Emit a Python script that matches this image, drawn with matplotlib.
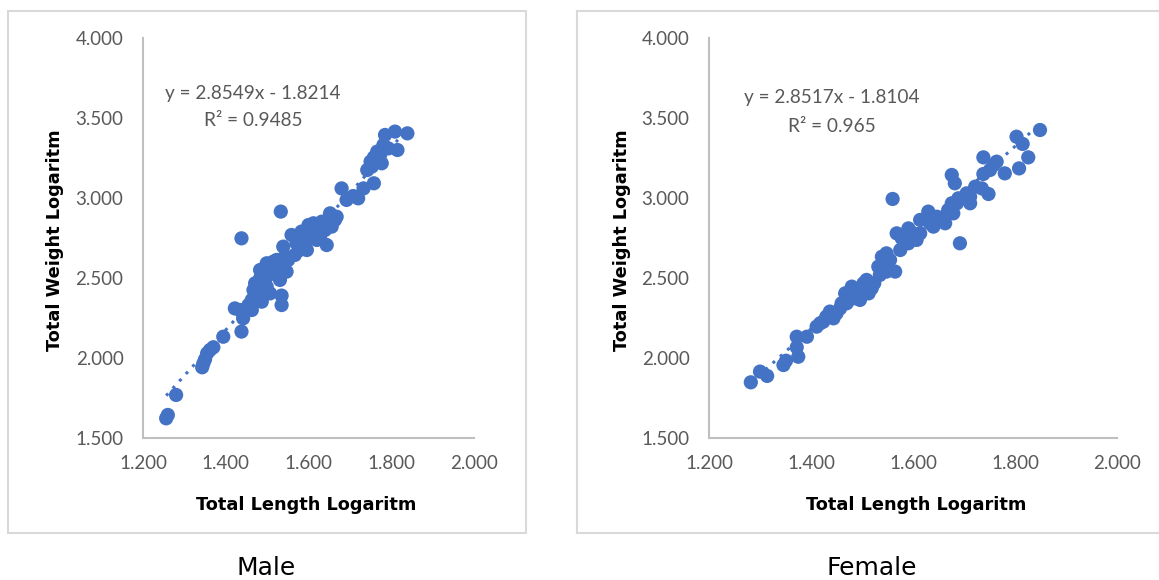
import matplotlib
matplotlib.use("Agg")
import matplotlib.pyplot as plt
from matplotlib.patches import Rectangle
import numpy as np

# ---------------- data ----------------
male_x = [1.256, 1.260, 1.280, 1.343, 1.350, 1.355, 1.362, 1.370, 1.346, 1.394,
          1.438, 1.422, 1.442, 1.434, 1.455, 1.463, 1.467, 1.475, 1.487, 1.483,
          1.499, 1.511, 1.515, 1.523, 1.539, 1.531, 1.547, 1.499, 1.507, 1.491,
          1.535, 1.535, 1.438, 1.533, 1.539, 1.559, 1.571, 1.583, 1.592, 1.604,
          1.612, 1.624, 1.632, 1.644, 1.652, 1.664, 1.656, 1.596, 1.579, 1.608,
          1.567, 1.551, 1.680, 1.692, 1.708, 1.733, 1.758, 1.742, 1.750, 1.758,
          1.769, 1.777, 1.785, 1.809, 1.839, 1.815, 1.793, 1.781, 1.766, 1.628,
          1.640, 1.668, 1.483, 1.471, 1.499, 1.523, 1.543, 1.620, 1.592, 1.447,
          1.463, 1.491, 1.636, 1.583, 1.600, 1.720, 1.753, 1.773]
male_y = [1.623, 1.644, 1.769, 1.942, 1.992, 2.029, 2.050, 2.067, 1.967, 2.133,
          2.165, 2.310, 2.248, 2.300, 2.331, 2.363, 2.425, 2.435, 2.352, 2.550,
          2.508, 2.529, 2.602, 2.613, 2.571, 2.488, 2.540, 2.446, 2.404, 2.467,
          2.390, 2.331, 2.748, 2.915, 2.696, 2.769, 2.717, 2.738, 2.779, 2.800,
          2.842, 2.821, 2.852, 2.706, 2.904, 2.863, 2.821, 2.675, 2.675, 2.758,
          2.644, 2.613, 3.060, 2.988, 3.012, 3.060, 3.092, 3.175, 3.227, 3.254,
          3.263, 3.217, 3.394, 3.415, 3.404, 3.300, 3.310, 3.331, 3.290, 2.758,
          2.800, 2.883, 2.498, 2.467, 2.592, 2.550, 2.633, 2.738, 2.717, 2.300,
          2.300, 2.415, 2.821, 2.790, 2.831, 2.998, 3.196, 3.269]

female_x = [1.282, 1.300, 1.314, 1.346, 1.351, 1.372, 1.372, 1.375, 1.392, 1.411,
            1.418, 1.430, 1.437, 1.444, 1.450, 1.460, 1.467, 1.473, 1.480, 1.484,
            1.493, 1.503, 1.509, 1.519, 1.524, 1.532, 1.539, 1.542, 1.548, 1.565,
            1.555, 1.568, 1.578, 1.591, 1.591, 1.601, 1.614, 1.630, 1.633, 1.640,
            1.653, 1.663, 1.669, 1.676, 1.686, 1.689, 1.705, 1.712, 1.722, 1.735,
            1.748, 1.738, 1.751, 1.764, 1.738, 1.780, 1.808, 1.826, 1.803, 1.815,
            1.849, 1.676, 1.682, 1.560, 1.692, 1.457, 1.496, 1.513, 1.535, 1.575,
            1.607, 1.647, 1.614, 1.594, 1.548, 1.470, 1.424, 1.679, 1.712, 1.758]
female_y = [1.848, 1.915, 1.888, 1.956, 1.983, 2.133, 2.067, 2.008, 2.133, 2.196,
            2.217, 2.258, 2.290, 2.248, 2.279, 2.342, 2.404, 2.363, 2.446, 2.373,
            2.425, 2.467, 2.488, 2.435, 2.467, 2.571, 2.633, 2.581, 2.540, 2.540,
            2.613, 2.779, 2.748, 2.717, 2.810, 2.779, 2.779, 2.915, 2.842, 2.821,
            2.873, 2.842, 2.925, 2.967, 2.967, 2.998, 3.029, 2.967, 3.071, 3.060,
            3.025, 3.150, 3.175, 3.227, 3.254, 3.154, 3.185, 3.254, 3.383, 3.338,
            3.425, 3.144, 3.092, 2.994, 2.717, 2.310, 2.363, 2.404, 2.519, 2.675,
            2.738, 2.883, 2.863, 2.758, 2.654, 2.342, 2.227, 2.904, 3.008, 3.206]

male_fit = (2.8549, -1.8214)
female_fit = (2.8517, -1.8104)
male_eq = ["y = 2.8549x - 1.8214", "R² = 0.9485"]
female_eq = ["y = 2.8517x - 1.8104", "R² = 0.965"]
panel_titles = ["Male", "Female"]
x_ticks = [1.2, 1.4, 1.6, 1.8, 2.0]
y_ticks = [1.5, 2.0, 2.5, 3.0, 3.5, 4.0]
x_label = "Total Length Logaritm"
y_label = "Total Weight Logaritm"

# ---------------- figure ----------------
W, H = 1159, 580
fig = plt.figure(figsize=(W / 100, H / 100), dpi=100)
BLUE = "#4472C4"
GRID = "#BFBFBF"
TXT = "#595959"

def fx(px):
    return px / W

def fy(py):
    return 1 - py / H

# panel frames
for (x0, x1) in [(8, 526), (577, 1160)]:
    fig.patches.append(Rectangle((fx(x0), fy(533)), fx(x1 - x0), (533 - 11) / H,
                                 transform=fig.transFigure, fill=False,
                                 edgecolor="#D9D9D9", linewidth=1.5, zorder=0))

panels = [
    dict(xs=male_x, ys=male_y, fit=male_fit, eq=male_eq, ax=(143, 474),
         eqx=253, eqy=(93, 120), title=panel_titles[0], tx=266,
         ylx=55, xlx=306),
    dict(xs=female_x, ys=female_y, fit=female_fit, eq=female_eq, ax=(709, 1117),
         eqx=832, eqy=(98, 126), title=panel_titles[1], tx=872,
         ylx=622, xlx=916),
]

for p in panels:
    l, r = p["ax"]
    ax = fig.add_axes([fx(l), fy(438), fx(r - l), (438 - 38) / H])
    ax.set_xlim(1.2, 2.0)
    ax.set_ylim(1.5, 4.0)
    ax.set_xticks(x_ticks)
    ax.set_yticks(y_ticks)
    ax.set_xticklabels([f"{v:.3f}" for v in x_ticks])
    ax.set_yticklabels([f"{v:.3f}" for v in y_ticks])
    ax.tick_params(axis="y", length=0, labelsize=13.5, labelcolor=TXT, pad=14)
    ax.tick_params(axis="x", length=0, labelsize=13.5, labelcolor=TXT, pad=12)
    for lab in ax.get_xticklabels() + ax.get_yticklabels():
        lab.set_fontfamily("Lato")
    for s in ["top", "right"]:
        ax.spines[s].set_visible(False)
    for s in ["left", "bottom"]:
        ax.spines[s].set_color(GRID)
        ax.spines[s].set_linewidth(1.5)
    ax.patch.set_alpha(0)

    xs = np.array(p["xs"])
    ys = np.array(p["ys"])
    ax.scatter(xs, ys, s=105, color=BLUE, edgecolors="none", zorder=3)
    a, b = p["fit"]
    tx = np.array([xs.min(), xs.max()])
    ax.plot(tx, a * tx + b, linestyle=(0, (1, 2.2)), color=BLUE, linewidth=2.2, zorder=2)

    fig.text(fx(p["eqx"]), fy(p["eqy"][0]), p["eq"][0], ha="center", va="center",
             fontsize=13.7, color=TXT, family="Lato")
    fig.text(fx(p["eqx"]), fy(p["eqy"][1]), p["eq"][1], ha="center", va="center",
             fontsize=13.7, color=TXT, family="Lato")

    fig.text(fx(p["ylx"]), fy(240), y_label, rotation=90, ha="center", va="center",
             fontsize=12.8, fontweight="bold", color="black", family="DejaVu Sans")
    fig.text(fx(p["xlx"]), fy(505), x_label, ha="center", va="center",
             fontsize=12.8, fontweight="bold", color="black", family="DejaVu Sans")
    fig.text(fx(p["tx"]), fy(568), p["title"], ha="center", va="center",
             fontsize=18, color="black", family="DejaVu Sans")

fig.savefig("out.png", dpi=100)
